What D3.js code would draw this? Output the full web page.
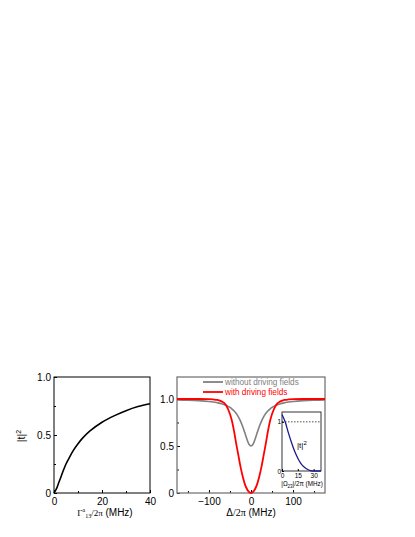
<!DOCTYPE html>
<html lang="en">
<head>
    <meta charset="UTF-8" />
    <title>Transmission</title>
    <script src="https://d3js.org/d3.v7.js"></script>
    <style>
        body { margin: 0; background: #fff; }
        text { font-family: "Liberation Sans", Arial, sans-serif; }
    </style>
</head>
<body>
    <script>
        var w = 415;
        var h = 537;

        // left panel: |t|^2 vs Gamma^a_13 / 2pi
        var gammaX = [0, 1, 2, 3, 4, 5, 6, 8, 10, 12, 15, 20, 25, 30, 35, 40];
        var gammaT = [0, 0.035, 0.09, 0.145, 0.2, 0.25, 0.29, 0.365, 0.425, 0.475, 0.535, 0.61, 0.665, 0.71, 0.745, 0.77];

        // right panel: |t|^2 vs detuning
        var detuning = [-176, -150, -125, -100, -90, -80, -70, -60, -50, -45, -40, -35, -30, -25, -20, -15, -10, -5, 0,
            5, 10, 15, 20, 25, 30, 35, 40, 45, 50, 60, 70, 80, 90, 100, 125, 150, 176];
        var withoutDriving = [0.991, 0.988, 0.983, 0.974, 0.968, 0.96, 0.95, 0.934, 0.91, 0.893, 0.872, 0.845, 0.81, 0.765, 0.71, 0.645, 0.577, 0.52, 0.5,
            0.52, 0.577, 0.645, 0.71, 0.765, 0.81, 0.845, 0.872, 0.893, 0.91, 0.934, 0.95, 0.96, 0.968, 0.974, 0.983, 0.988, 0.991];
        var withDriving = [1.0, 1.0, 1.0, 0.998, 0.995, 0.99, 0.975, 0.94, 0.84, 0.76, 0.65, 0.52, 0.40, 0.28, 0.18, 0.10, 0.045, 0.011, 0,
            0.011, 0.045, 0.10, 0.18, 0.28, 0.40, 0.52, 0.65, 0.76, 0.84, 0.94, 0.975, 0.99, 0.995, 0.998, 1.0, 1.0, 1.0];

        // inset: |t|^2 vs |Omega_23| / 2pi
        var omegaX = [0, 3, 6, 9, 12, 15, 18, 21, 24, 27, 30, 33, 37];
        var omegaT = [1.15, 1.0, 0.78, 0.58, 0.40, 0.26, 0.15, 0.08, 0.035, 0.01, 0, 0, 0];

        var leftTicksY = [0, 0.5, 1.0];
        var leftTicksX = [0, 20, 40];
        var rightTicksX = [-100, 0, 100];
        var insetTicksX = [0, 15, 30];
        var insetTicksY = [0, 1];
        var legendLabels = ["without driving fields", "with driving fields"];

        var svg = d3.select("body")
            .append("svg")
            .attr("width", w)
            .attr("height", h);

        svg.append("rect").attr("width", w).attr("height", h).attr("fill", "#fff");

        var yFmt = function (d) { return d === 0 ? "0" : d3.format(".1f")(d); };

        //----- left panel
        var xL = d3.scaleLinear().domain([0, 40]).range([54, 150]);
        var yL = d3.scaleLinear().domain([0, 1]).range([493, 377]);

        var left = svg.append("g");

        left.append("g")
            .attr("transform", "translate(0,493)")
            .call(d3.axisBottom(xL).tickValues([10, 30]).tickSize(-2).tickFormat(""));
        left.append("g")
            .attr("transform", "translate(0,493)")
            .call(d3.axisBottom(xL).tickValues(leftTicksX).tickSizeInner(-3).tickSizeOuter(0).tickPadding(5));
        left.append("g")
            .attr("transform", "translate(54,0)")
            .call(d3.axisLeft(yL).tickValues([0.25, 0.75]).tickSize(-2).tickFormat(""));
        left.append("g")
            .attr("transform", "translate(54,0)")
            .call(d3.axisLeft(yL).tickValues(leftTicksY).tickSizeInner(-3).tickSizeOuter(0).tickPadding(3).tickFormat(yFmt));

        left.append("rect")
            .attr("x", xL(0)).attr("y", yL(1))
            .attr("width", xL(40) - xL(0)).attr("height", yL(0) - yL(1))
            .attr("fill", "none").attr("stroke", "#000").attr("stroke-width", 1);

        left.append("path")
            .datum(d3.range(gammaX.length))
            .attr("fill", "none")
            .attr("stroke", "#000")
            .attr("stroke-width", 1.6)
            .attr("d", d3.line()
                .x(function (i) { return xL(gammaX[i]); })
                .y(function (i) { return yL(gammaT[i]); })
                .curve(d3.curveCatmullRom.alpha(0.5)));

        var yLab = left.append("text")
            .attr("transform", "translate(25,436) rotate(-90)")
            .attr("text-anchor", "middle")
            .attr("font-size", 10.5);
        yLab.append("tspan").text("|t|");
        yLab.append("tspan").attr("font-size", 7).attr("dy", -4).text("2");

        var xLab = left.append("text")
            .attr("x", 105).attr("y", 516)
            .attr("text-anchor", "middle")
            .attr("font-size", 10);
        xLab.append("tspan").attr("font-family", "Liberation Serif").attr("font-size", 9).text("Γ");
        xLab.append("tspan").attr("font-family", "Liberation Serif").attr("font-size", 6).attr("dy", -4).text("a");
        xLab.append("tspan").attr("font-family", "Liberation Serif").attr("font-size", 6).attr("dy", 6).text("13");
        xLab.append("tspan").attr("font-family", "Liberation Serif").attr("font-size", 9).attr("dy", -2).text("/2π");
        xLab.append("tspan").text("  (MHz)");

        //----- right panel
        var xR = d3.scaleLinear().domain([-176, 176]).range([177, 325]);
        var yR = d3.scaleLinear().domain([0, 1.234]).range([493, 377]);

        var right = svg.append("g");

        right.append("g")
            .attr("transform", "translate(0,493)")
            .call(d3.axisBottom(xR).tickValues([-150, -50, 50, 150]).tickSize(-2).tickFormat(""));
        right.append("g")
            .attr("transform", "translate(0,493)")
            .call(d3.axisBottom(xR).tickValues(rightTicksX).tickSizeInner(-3).tickSizeOuter(0).tickPadding(5));
        right.append("g")
            .attr("transform", "translate(177,0)")
            .call(d3.axisLeft(yR).tickValues([0.25, 0.75]).tickSize(-2).tickFormat(""));
        right.append("g")
            .attr("transform", "translate(177,0)")
            .call(d3.axisLeft(yR).tickValues(leftTicksY).tickSizeInner(-3).tickSizeOuter(0).tickPadding(3).tickFormat(yFmt));

        right.append("rect")
            .attr("x", 177).attr("y", 377)
            .attr("width", 148).attr("height", 116)
            .attr("fill", "none").attr("stroke", "#777").attr("stroke-width", 1.3);

        var series = [
            { values: withoutDriving, color: "#808080", width: 1.6 },
            { values: withDriving, color: "#ff0000", width: 1.8 }
        ];

        right.selectAll(".curve")
            .data(series)
            .enter()
            .append("path")
            .attr("class", "curve")
            .attr("fill", "none")
            .attr("stroke", function (s) { return s.color; })
            .attr("stroke-width", function (s) { return s.width; })
            .attr("d", function (s) {
                return d3.line()
                    .x(function (v, i) { return xR(detuning[i]); })
                    .y(function (v) { return yR(v); })
                    .curve(d3.curveMonotoneX)(s.values);
            });

        // legend
        var legend = right.selectAll(".legend")
            .data(series)
            .enter()
            .append("g")
            .attr("class", "legend")
            .attr("transform", function (s, i) { return "translate(203," + (382 + i * 10) + ")"; });
        legend.append("line")
            .attr("x1", 0).attr("x2", 20)
            .attr("stroke", function (s) { return s.color; })
            .attr("stroke-width", 1.8);
        legend.append("text")
            .attr("x", 22).attr("y", 3)
            .attr("font-size", 8.2)
            .attr("fill", function (s) { return s.color; })
            .text(function (s, i) { return legendLabels[i]; });

        var rLab = right.append("text")
            .attr("x", 251).attr("y", 516)
            .attr("text-anchor", "middle")
            .attr("font-size", 10);
        rLab.append("tspan").text("Δ");
        rLab.append("tspan").attr("font-family", "Liberation Serif").text("/2π");
        rLab.append("tspan").text("  (MHz)");

        //----- inset
        var xI = d3.scaleLinear().domain([0, 37]).range([282, 321]);
        var yI = d3.scaleLinear().domain([0, 1.2]).range([471, 412]);

        var inset = svg.append("g");

        inset.append("rect")
            .attr("x", 282).attr("y", 412)
            .attr("width", 39).attr("height", 59)
            .attr("fill", "#fff").attr("stroke", "#000").attr("stroke-width", 0.8);

        inset.append("line")
            .attr("x1", xI(0)).attr("x2", xI(37))
            .attr("y1", yI(1)).attr("y2", yI(1))
            .attr("stroke", "#000").attr("stroke-width", 0.7)
            .attr("stroke-dasharray", "1.5,1.5");

        var ixAxis = inset.append("g")
            .attr("transform", "translate(0,471)")
            .call(d3.axisBottom(xI).tickValues(insetTicksX).tickSizeInner(-2).tickSizeOuter(0).tickPadding(2));
        var iyAxis = inset.append("g")
            .attr("transform", "translate(282,0)")
            .call(d3.axisLeft(yI).tickValues(insetTicksY).tickSizeInner(-2).tickSizeOuter(0).tickPadding(1).tickFormat(d3.format("d")));
        inset.selectAll(".domain").remove();
        ixAxis.selectAll("text").attr("font-size", 6.5);
        iyAxis.selectAll("text").attr("font-size", 6.5);

        inset.append("path")
            .datum(d3.range(omegaX.length))
            .attr("fill", "none")
            .attr("stroke", "#1a1a8c")
            .attr("stroke-width", 1.3)
            .attr("d", d3.line()
                .x(function (i) { return xI(omegaX[i]); })
                .y(function (i) { return yI(omegaT[i]); })
                .curve(d3.curveMonotoneX));

        var iLab = inset.append("text")
            .attr("x", 297).attr("y", 448)
            .attr("font-size", 8);
        iLab.append("tspan").text("|t|");
        iLab.append("tspan").attr("font-size", 6).attr("dy", -3).text("2");

        var iX = inset.append("text")
            .attr("x", 302).attr("y", 486)
            .attr("text-anchor", "middle")
            .attr("font-size", 6.3);
        iX.append("tspan").text("|Ω");
        iX.append("tspan").attr("font-size", 4.5).attr("dy", 1.5).text("23");
        iX.append("tspan").attr("dy", -1.5).text("|/2π (MHz)");

        // axis text defaults
        svg.selectAll(".tick text").attr("font-family", "Liberation Sans, Arial, sans-serif");
        left.selectAll(".tick text").attr("font-size", 10).attr("fill", "#000");
        right.selectAll(".tick text").attr("font-size", 10).attr("fill", "#000");
        svg.selectAll(".domain").attr("stroke", "none");
    </script>
</body>
</html>
